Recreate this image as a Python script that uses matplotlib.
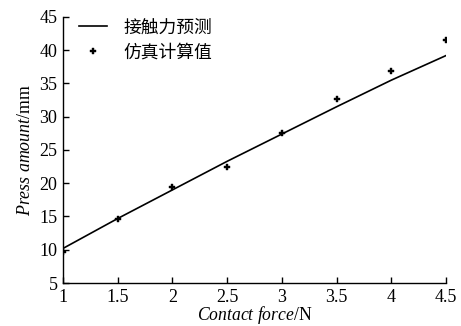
import matplotlib
matplotlib.use("Agg")
import matplotlib.pyplot as plt
from matplotlib.lines import Line2D

plt.rcParams['font.family'] = ['Liberation Serif', 'Noto Sans CJK SC']
plt.rcParams['mathtext.fontset'] = 'custom'
plt.rcParams['mathtext.rm'] = 'Liberation Serif'
plt.rcParams['mathtext.it'] = 'Liberation Serif:italic'

# Contact force (N)
force = [1.0, 1.5, 2.0, 2.5, 3.0, 3.5, 4.0, 4.5]
# Predicted press amount from contact-force model (mm)
predicted = [10.2, 14.7, 19.0, 23.3, 27.4, 31.5, 35.5, 39.2]
# Simulated press amount (mm)
simulated = [9.6, 14.6, 19.4, 22.4, 27.6, 32.6, 36.9, 41.5]

xticks = [1, 1.5, 2, 2.5, 3, 3.5, 4, 4.5]
xticklabels = ['1', '1.5', '2', '2.5', '3', '3.5', '4', '4.5']
yticks = [5, 10, 15, 20, 25, 30, 35, 40, 45]

fig = plt.figure(figsize=(4.61, 3.26), dpi=100)
ax = fig.add_axes([0.1367, 0.1319, 0.8308, 0.816])

ax.plot(force, predicted, color='black', lw=1.2)
ax.plot(force, simulated, linestyle='none', marker='P', ms=4.5,
        color='black', markeredgewidth=0.3)

ax.set_xlim(1, 4.5)
ax.set_ylim(5, 45)
ax.set_xticks(xticks)
ax.set_xticklabels(xticklabels)
ax.set_yticks(yticks)
ax.tick_params(direction='in', length=4, width=1, labelsize=13, pad=4)
for s in ('top', 'right'):
    ax.spines[s].set_visible(False)
for s in ('left', 'bottom'):
    ax.spines[s].set_linewidth(1)

ax.set_xlabel(r'$\mathit{Contact\ force}$/N', fontsize=12.7, labelpad=-1)
ax.set_ylabel(r'$\mathit{Press\ amount}$/mm', fontsize=12.9, labelpad=4)

handles = [Line2D([], [], color='black', lw=1.2),
           Line2D([], [], linestyle='none', marker='P', ms=4.5, color='black',
                  markeredgewidth=0.3)]
ax.legend(handles, ['接触力预测', '仿真计算值'], loc='upper left',
          bbox_to_anchor=(0.0, 1.05), frameon=False, fontsize=12.8,
          handlelength=1.6, handletextpad=0.9, labelspacing=0.45)

fig.savefig('out.png', dpi=100)
